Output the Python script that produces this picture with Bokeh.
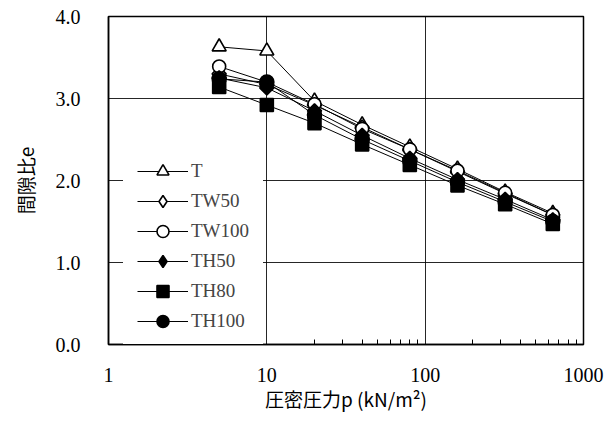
from bokeh.plotting import figure
from bokeh.models import (FixedTicker, CustomJSTickFormatter, PrintfTickFormatter,
                          Legend, LegendItem, Range1d)
from bokeh.embed import file_html
from bokeh.resources import INLINE

# ---- data ----
pressure = [5, 10, 20, 40, 80, 160, 320, 640]
e_T = [3.63, 3.58, 2.97, 2.68, 2.41, 2.14, 1.86, 1.60]
e_TW50 = [3.30, 3.17, 2.92, 2.65, 2.38, 2.11, 1.84, 1.58]
e_TW100 = [3.39, 3.20, 2.93, 2.63, 2.38, 2.12, 1.85, 1.58]
e_TH50 = [3.25, 3.13, 2.85, 2.55, 2.27, 2.01, 1.77, 1.52]
e_TH80 = [3.14, 2.92, 2.70, 2.44, 2.19, 1.94, 1.71, 1.47]
e_TH100 = [3.24, 3.20, 2.80, 2.50, 2.24, 1.98, 1.74, 1.50]
series_names = ["T", "TW50", "TW100", "TH50", "TH80", "TH100"]
x_ticks = [1, 10, 100, 1000]
y_ticks = [0, 1, 2, 3, 4]

# name, values, plot marker, size, fill, angle, legend marker
series = [
    ("T", e_T, "triangle", 14, "white", 0.0, "triangle"),
    ("TW50", e_TW50, "square", 10, "white", 0.785398, "diamond"),
    ("TW100", e_TW100, "circle", 13, "white", 0.0, "circle"),
    ("TH50", e_TH50, "square", 10, "black", 0.785398, "diamond"),
    ("TH80", e_TH80, "square", 13, "black", 0.0, "square"),
    ("TH100", e_TH100, "circle", 14, "black", 0.0, "circle"),
]

p = figure(width=612, height=420, x_axis_type="log",
           x_range=Range1d(1, 1000), y_range=Range1d(0, 4),
           output_backend="svg", toolbar_location=None,
           min_border_left=108, min_border_right=29,
           min_border_top=16, min_border_bottom=76)

p.outline_line_color = "black"
p.outline_line_width = 1.5

lines = []
for name, ys, mk, sz, fc, ang, lmk in series:
    lines.append(p.line(pressure, ys, line_color="black", line_width=1))
marks = []
for name, ys, mk, sz, fc, ang, lmk in series:
    marks.append(p.scatter(pressure, ys, marker=mk, size=sz, fill_color=fc,
                           line_color="black", line_width=1.6, angle=ang))
legend_marks = []
for (name, ys, mk, sz, fc, ang, lmk), m in zip(series, marks):
    if lmk == mk:
        legend_marks.append(m)
    else:
        hidden = p.scatter(pressure, ys, marker=lmk, size=sz, fill_color=fc,
                           line_color="black", line_width=1.6)
        hidden.visible = False
        legend_marks.append(hidden)

# axes
minor = [m * d for d in (1, 10, 100) for m in range(2, 10)]
p.xaxis.ticker = FixedTicker(ticks=x_ticks, minor_ticks=minor)
p.xaxis.formatter = CustomJSTickFormatter(code="return String(tick);")
p.yaxis.ticker = FixedTicker(ticks=y_ticks, minor_ticks=[])
p.yaxis.formatter = PrintfTickFormatter(format="%.1f")

for ax in (p.xaxis[0], p.yaxis[0]):
    ax.axis_line_color = "black"
    ax.axis_line_width = 1.5
    ax.major_tick_in = 0
    ax.major_tick_out = 0
    ax.major_label_text_font = "Liberation Serif"
    ax.major_label_text_font_size = "20px"
    ax.major_label_text_color = "black"
    ax.axis_label_text_font = "Noto Sans CJK JP"
    ax.axis_label_text_font_size = "19px"
    ax.axis_label_text_font_style = "normal"
    ax.axis_label_text_color = "black"
    ax.level = "overlay"

p.xaxis.minor_tick_in = 5
p.xaxis.minor_tick_out = 0
p.xaxis.minor_tick_line_color = "black"
p.yaxis.minor_tick_line_color = None
p.xaxis.major_label_standoff = 23
p.yaxis.major_label_standoff = 28
p.xaxis.axis_label = "圧密圧力p (kN/m²)"
p.yaxis.axis_label = "間隙比e"
p.xaxis.axis_label_standoff = 0
p.yaxis.axis_label_standoff = 14

p.xgrid.ticker = FixedTicker(ticks=[10, 100])
p.ygrid.ticker = FixedTicker(ticks=[1, 2, 3])
for g in (p.xgrid[0], p.ygrid[0]):
    g.grid_line_color = "black"
    g.grid_line_width = 1
    g.grid_line_alpha = 0.85

items = [LegendItem(label=n, renderers=[l, m]) for n, l, m in zip(series_names, lines, legend_marks)]
legend = Legend(items=items, location=(15, -6),
                background_fill_color="white", background_fill_alpha=1.0,
                border_line_color="white", border_line_width=1,
                inactive_fill_alpha=0.0,
                label_text_font="Liberation Serif", label_text_font_size="19px",
                glyph_width=51, glyph_height=30, spacing=0, padding=13,
                label_standoff=3, margin=0)
p.add_layout(legend)

open("out.html", "w").write(file_html(p, INLINE))
